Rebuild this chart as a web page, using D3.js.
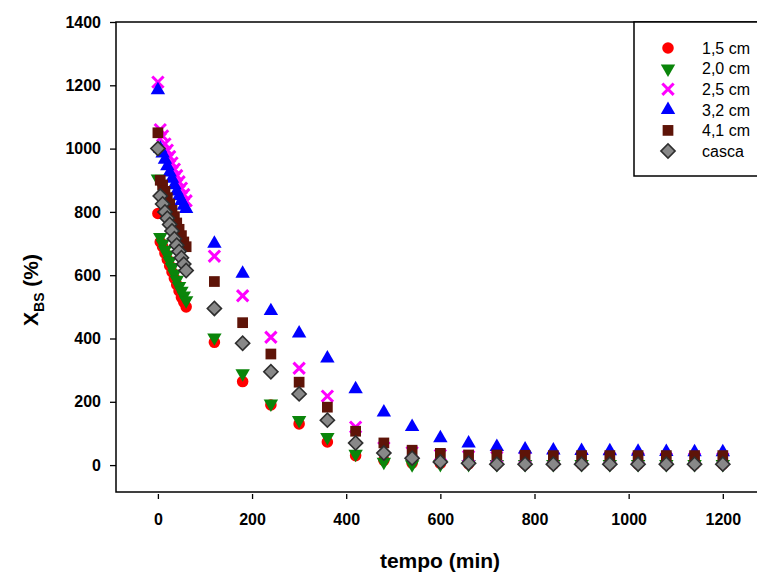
<!DOCTYPE html>
<html>
<head>
<meta charset="utf-8">
<script src="https://cdn.jsdelivr.net/npm/d3@7"></script>
<style>
  body { margin: 0; background: #fff; }
  svg { display: block; font-family: "Liberation Sans", Arial, sans-serif; }
</style>
</head>
<body>
<div id="chart"></div>
<script>
// drying curves, X_BS vs time
const width = 757, height = 572;

const tempo = [0, 5, 10, 15, 20, 25, 30, 35, 40, 45, 50, 55, 60,
  120, 180, 240, 300, 360, 420, 480, 540, 600, 660, 720, 780, 840, 900, 960, 1020, 1080, 1140, 1200];

const cm15 = [795, 705, 690, 670, 650, 630, 610, 590, 570, 550, 530, 515, 500,
  388, 264, 190, 130, 73, 30, 15, 6, 5, 4, 4, 3, 3, 3, 3, 3, 3, 3, 3];
const cm20 = [905, 720, 700, 680, 665, 645, 625, 605, 585, 565, 550, 535, 520,
  403, 290, 194, 142, 88, 35, 10, 2, 3, 3, 3, 3, 3, 3, 3, 3, 3, 3, 3];
const cm25 = [1210, 1060, 1040, 1015, 995, 975, 955, 935, 915, 895, 875, 855, 835,
  660, 535, 404, 306, 218, 120, 55, 40, 32, 28, 25, 24, 23, 22, 22, 22, 21, 21, 21];
const cm32 = [1185, 1000, 985, 965, 945, 925, 905, 885, 865, 850, 835, 820, 810,
  700, 605, 487, 416, 337, 240, 167, 121, 85, 69, 58, 50, 47, 45, 44, 43, 42, 41, 41];
const cm41 = [1050, 900, 885, 865, 845, 825, 805, 785, 765, 745, 725, 705, 690,
  580, 450, 351, 262, 183, 107, 70, 47, 37, 32, 32, 31, 30, 30, 30, 30, 30, 30, 30];
const casca = [1000, 850, 825, 800, 780, 760, 740, 715, 695, 675, 655, 635, 615,
  495, 385, 295, 225, 142, 70, 38, 22, 10, 6, 3, 3, 3, 3, 3, 3, 3, 3, 3];

const seriesNames = ["1,5 cm", "2,0 cm", "2,5 cm", "3,2 cm", "4,1 cm", "casca"];
const seriesData = [cm15, cm20, cm25, cm32, cm41, casca];
const xTicks = [0, 200, 400, 600, 800, 1000, 1200];
const yTicks = [0, 200, 400, 600, 800, 1000, 1200, 1400];

const styles = [
  { type: d3.symbolCircle, size: 105, fill: "#ff0000", stroke: "none", rot: 0 },
  { type: d3.symbolTriangle, size: 90, fill: "#0a850a", stroke: "none", rot: 180 },
  { type: d3.symbolX, size: 85, fill: "none", stroke: "#ff00ff", rot: 0, sw: 3 },
  { type: d3.symbolTriangle, size: 90, fill: "#0000ff", stroke: "none", rot: 0 },
  { type: d3.symbolSquare, size: 115, fill: "#5e1408", stroke: "none", rot: 0 },
  { type: d3.symbolSquare, size: 100, fill: "#888888", stroke: "#2e2e2e", rot: 45, sw: 1.6 }
];

const margin = { left: 116, top: 22, right: 760, bottom: 492 };

const x = d3.scaleLinear().domain([-89, 1279]).range([margin.left, margin.right]);
const y = d3.scaleLinear().domain([-85, 1400]).range([margin.bottom, margin.top]);

const svg = d3.select("#chart").append("svg")
  .attr("width", width).attr("height", height);

// frame
svg.append("rect")
  .attr("x", margin.left).attr("y", margin.top)
  .attr("width", margin.right - margin.left).attr("height", margin.bottom - margin.top)
  .attr("fill", "none").attr("stroke", "#000").attr("stroke-width", 1.5);

const xAxis = svg.append("g")
  .attr("transform", `translate(0,${margin.bottom})`)
  .call(d3.axisBottom(x).tickValues(xTicks).tickSize(6).tickPadding(16).tickFormat(d3.format("d")));
const yAxis = svg.append("g")
  .attr("transform", `translate(${margin.left},0)`)
  .call(d3.axisLeft(y).tickValues(yTicks).tickSize(6).tickPadding(9).tickFormat(d3.format("d")));

[xAxis, yAxis].forEach(g => {
  g.select(".domain").remove();
  g.selectAll(".tick line").attr("stroke", "#000").attr("stroke-width", 1.3);
  g.selectAll(".tick text")
    .attr("fill", "#000").attr("font-size", 16).attr("font-weight", "bold")
    .attr("font-family", "Liberation Sans, Arial, sans-serif");
});
xAxis.selectAll(".tick line").attr("y1", 2).attr("y2", 7);

// points
const plot = svg.append("g");
seriesData.forEach((vals, k) => {
  const st = styles[k];
  const sym = d3.symbol().type(st.type).size(st.size);
  plot.append("g").selectAll("path")
    .data(vals.map((v, i) => [tempo[i], v]))
    .join("path")
    .attr("d", sym)
    .attr("transform", d => `translate(${x(d[0])},${y(d[1])}) rotate(${st.rot})`)
    .attr("fill", st.fill)
    .attr("stroke", st.stroke)
    .attr("stroke-width", st.sw || 0);
});

// legend
const lg = svg.append("g");
lg.append("rect")
  .attr("x", 634).attr("y", margin.top)
  .attr("width", 140).attr("height", 154)
  .attr("fill", "#fff").attr("stroke", "#000").attr("stroke-width", 1.5);
seriesNames.forEach((name, k) => {
  const st = styles[k];
  const yy = 48 + k * 20.6;
  lg.append("path")
    .attr("d", d3.symbol().type(st.type).size(st.size)())
    .attr("transform", `translate(668,${yy}) rotate(${st.rot})`)
    .attr("fill", st.fill).attr("stroke", st.stroke).attr("stroke-width", st.sw || 0);
  lg.append("text")
    .attr("x", 702).attr("y", yy).attr("dy", "0.36em")
    .attr("font-size", 16).attr("fill", "#000")
    .text(name);
});

// axis titles
svg.append("text")
  .attr("x", 440).attr("y", 568)
  .attr("text-anchor", "middle")
  .attr("font-size", 21).attr("font-weight", "bold")
  .text("tempo (min)");

const yt = svg.append("text")
  .attr("transform", "translate(38,290) rotate(-90)")
  .attr("text-anchor", "middle")
  .attr("font-size", 21).attr("font-weight", "bold");
yt.append("tspan").text("X");
yt.append("tspan").attr("font-size", 14).attr("dy", 6).text("BS");
yt.append("tspan").attr("dy", -6).text(" (%)");
</script>
</body>
</html>
